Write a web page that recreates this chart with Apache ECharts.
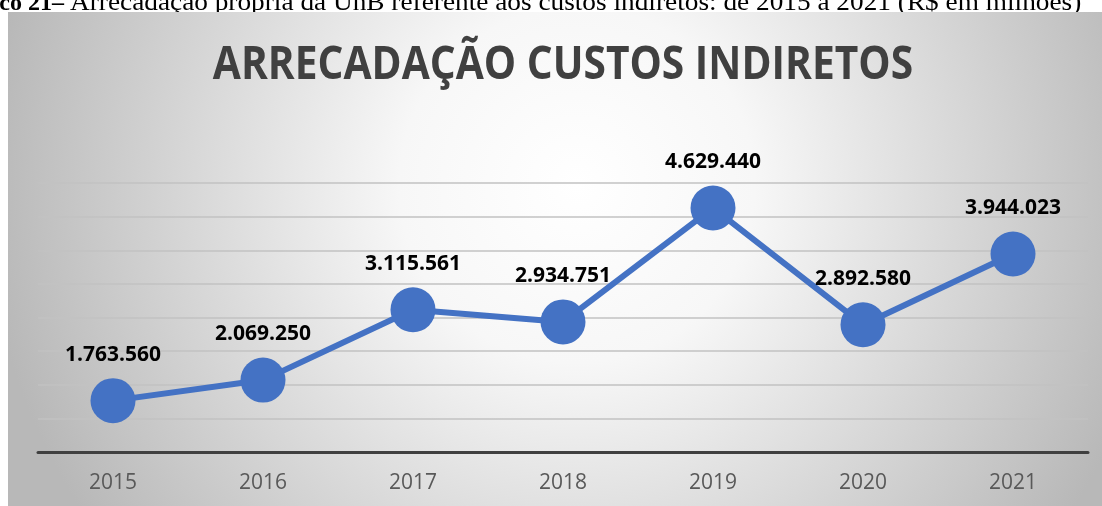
<!DOCTYPE html>
<html>
<head>
<meta charset="utf-8">
<script src="https://cdn.jsdelivr.net/npm/echarts@6/dist/echarts.min.js"></script>
<style>
  html, body { margin: 0; padding: 0; background: #ffffff; }
  #chart { width: 1102px; height: 506px; }
</style>
</head>
<body>
<div id="chart"></div>
<script>
// dados do gráfico
var anos = ["2015", "2016", "2017", "2018", "2019", "2020", "2021"];
var arrecadacao = [1763560, 2069250, 3115561, 2934751, 4629440, 2892580, 3944023];

var tituloGrafico = "ARRECADAÇÃO CUSTOS INDIRETOS";
var legendaNegrito = "Gráfico 21–";
var legendaTexto = "Arrecadação própria da UnB referente aos custos indiretos: de 2015 a 2021 (R$ em milhões)";

function formatarBR(v) {
  return String(v).replace(/\B(?=(\d{3})+(?!\d))/g, ".");
}

var myChart = echarts.init(document.getElementById("chart"));

var option = {
  backgroundColor: "#ffffff",
  animation: false,
  graphic: [
    {
      // legenda da figura (cortada no topo e à esquerda)
      type: "text",
      z: 0,
      x: 64,
      y: 16,
      style: {
        text: legendaNegrito,
        align: "right",
        verticalAlign: "bottom",
        fontFamily: "Liberation Serif",
        fontWeight: "bold",
        fontSize: 24,
        fill: "#000"
      }
    },
    {
      type: "text",
      z: 0,
      x: 70,
      y: 16,
      scaleX: 1.05,
      style: {
        text: legendaTexto,
        verticalAlign: "bottom",
        fontFamily: "Liberation Serif",
        fontSize: 26,
        fill: "#000"
      }
    },
    {
      // fundo do gráfico com gradiente radial
      type: "rect",
      z: 1,
      silent: true,
      shape: { x: 8, y: 12, width: 1094, height: 494 },
      style: {
        fill: {
          type: "radial",
          x: 0.52,
          y: 0.35,
          r: 1.2,
          colorStops: [
            { offset: 0, color: "#ffffff" },
            { offset: 0.3, color: "#f7f7f7" },
            { offset: 1, color: "#b8b8b8" }
          ]
        }
      }
    },
    {
      type: "text",
      z: 2,
      x: 563,
      y: 66,
      scaleX: 0.885,
      style: {
        text: tituloGrafico,
        align: "center",
        verticalAlign: "middle",
        fontFamily: "Open Sans",
        fontWeight: "bold",
        fontSize: 46,
        fill: "#404040"
      }
    }
  ],
  grid: {
    left: 38,
    right: 14,
    top: 183,
    bottom: 54,
    z: 3
  },
  xAxis: {
    type: "category",
    data: anos,
    boundaryGap: true,
    z: 3,
    axisLine: { lineStyle: { color: "#404040", width: 3 } },
    axisTick: { show: false },
    axisLabel: {
      margin: 21,
      fontFamily: "Open Sans",
      fontSize: 21,
      color: "#595959"
    }
  },
  yAxis: {
    type: "value",
    min: 1000000,
    max: 5000000,
    interval: 500000,
    z: 3,
    axisLine: { show: false },
    axisTick: { show: false },
    axisLabel: { show: false },
    splitLine: { lineStyle: { color: "#c2c2c2", width: 1.5 } }
  },
  series: [
    {
      name: "Arrecadação",
      type: "line",
      z: 4,
      data: arrecadacao,
      symbol: "circle",
      symbolSize: 45,
      itemStyle: { color: "#4472c4" },
      lineStyle: { color: "#4472c4", width: 6 },
      label: {
        show: true,
        position: "top",
        distance: 13,
        fontFamily: "Open Sans",
        fontWeight: "bold",
        fontSize: 21,
        color: "#000000",
        formatter: function (p) { return formatarBR(p.value); }
      }
    }
  ]
};

myChart.setOption(option);
</script>
</body>
</html>
